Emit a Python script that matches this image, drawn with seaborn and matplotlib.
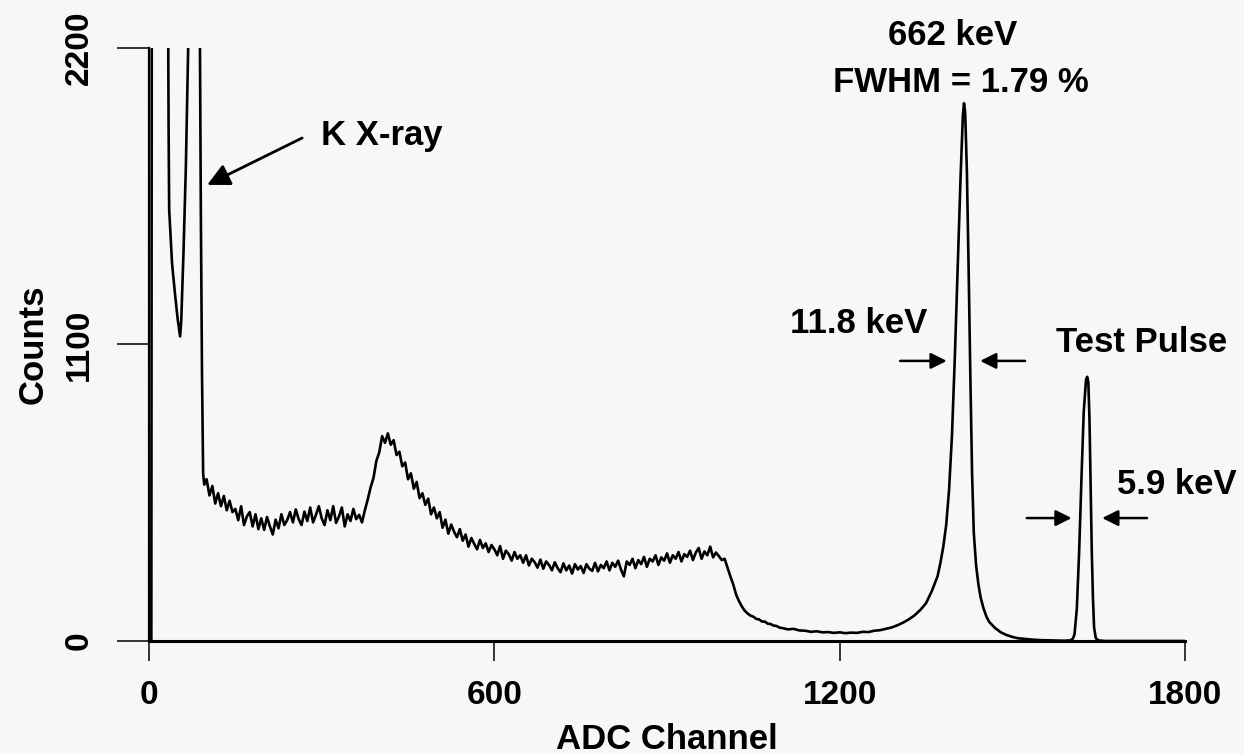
import numpy as np
import pandas as pd
import seaborn as sns
import matplotlib.pyplot as plt

sns.set_theme(style='ticks')
plt.rcParams['font.family'] = ['Liberation Sans', 'DejaVu Sans']
plt.rcParams['font.weight'] = 'bold'

# low channels: the two clipped K x-ray peaks (values above 2200 run off the top)
low_channels = [0, 4, 5, 12, 20, 30, 33, 34, 35, 40, 45, 50, 54, 56, 60, 64, 68, 70, 72, 80, 86, 88, 90, 92, 94, 96]
low_counts = [0, 0, 3000, 3000, 3000, 3000, 2400, 1900, 1600, 1400, 1290, 1190, 1130, 1190, 1450, 1760, 2200, 2600, 3000, 3000, 3000, 2400, 1600, 1000, 620, 580]

# continuum, every 5 channels from 100 to 1095
cont_counts = [
    600, 540, 575, 510, 548, 500, 538, 485, 520, 478,
    490, 448, 500, 430, 462, 478, 425, 470, 415, 455,
    412, 460, 425, 395, 450, 418, 470, 430, 448, 478,
    440, 488, 452, 430, 480, 445, 495, 440, 468, 500,
    455, 430, 485, 448, 500, 438, 462, 495, 425, 470,
    445, 490, 452, 468, 440, 485, 525, 570, 605, 668,
    700, 760, 735, 770, 728, 745, 690, 702, 648, 662,
    600, 622, 565, 590, 530, 548, 505, 528, 470, 495,
    455, 478, 420, 450, 398, 432, 405, 385, 415, 372,
    395, 350, 382, 360, 340, 375, 345, 362, 330, 356,
    340, 318, 352, 305, 335, 322, 298, 330, 305, 318,
    290, 318, 280, 305, 292, 272, 302, 268, 295, 282,
    262, 292, 270, 255, 288, 262, 280, 250, 285, 265,
    278, 252, 285, 268, 260, 290, 258, 282, 270, 295,
    262, 290, 275, 298, 265, 240, 295, 282, 305, 270,
    300, 285, 312, 275, 305, 295, 318, 282, 310, 298,
    325, 290, 318, 305, 330, 295, 322, 312, 335, 300,
    328, 345, 305, 332, 318, 350, 310, 328, 315, 300,
    305, 272, 240, 210, 172, 148, 128, 112, 102, 94,
    90, 82, 80, 72, 72, 64, 63, 57, 56, 50,
]

# 662 keV photopeak and test pulse
high_channels = [1100, 1110, 1120, 1130, 1140, 1150, 1160, 1170, 1180, 1190, 1200, 1210, 1220, 1230,
                 1240, 1250, 1260, 1270, 1280, 1290, 1300, 1310, 1320, 1330, 1340, 1350, 1360, 1370,
                 1375, 1380, 1385, 1390, 1395, 1400, 1405, 1410, 1414, 1416, 1418, 1421, 1424, 1427,
                 1430, 1433, 1437, 1441, 1445, 1450, 1455, 1460, 1470, 1480, 1490, 1500, 1510, 1520,
                 1535, 1550, 1570, 1590, 1600, 1605, 1608, 1612, 1616, 1620, 1624, 1628, 1630, 1632,
                 1634, 1636, 1638, 1640, 1642, 1645, 1650, 1660, 1700, 1800]
high_counts = [48, 43, 45, 39, 38, 34, 36, 32, 33, 30, 32, 29, 31, 30,
               34, 33, 38, 40, 45, 50, 58, 68, 80, 95, 115, 140, 185, 240,
               290, 350, 430, 560, 760, 1050, 1380, 1720, 1950, 1995, 1960, 1740, 1380, 980,
               620, 400, 280, 210, 160, 120, 90, 70, 48, 32, 22, 15, 10, 8,
               5, 3, 2, 1, 2, 8, 25, 120, 330, 600, 850, 970, 980, 960,
               820, 575, 330, 160, 50, 10, 2, 0, 0, 0]

channels = low_channels + list(range(100, 1100, 5)) + high_channels
counts = low_counts + cont_counts + high_counts
df = pd.DataFrame({'channel': channels, 'counts': counts})

fig = plt.figure(figsize=(12.44, 7.54), dpi=100, facecolor='#f7f7f7')
ax = fig.add_axes([0.1198, 0.1499, 0.8328, 0.7865])
ax.set_facecolor('#f7f7f7')

sns.lineplot(data=df, x='channel', y='counts', ax=ax, color='black', lw=1.9, estimator=None)

ax.set_xlim(0, 1800)
ax.set_ylim(0, 2200)
ax.set_xticks([0, 600, 1200, 1800])
ax.set_yticks([0, 1100, 2200])
sns.despine(ax=ax)
ax.spines['bottom'].set_linewidth(2.2)
ax.spines['left'].set_linewidth(1.6)
ax.spines['bottom'].set_color('black')
ax.spines['left'].set_color('black')
ax.tick_params(axis='x', length=14.4, width=1.1, pad=14, labelsize=24, colors='black')
ax.tick_params(axis='y', length=23, width=1.1, pad=16, labelsize=24, labelrotation=90, colors='black')
for lab in ax.get_yticklabels():
    lab.set_va('center')

ax.set_xlabel('ADC Channel', fontsize=25, fontweight='bold', labelpad=8, color='black')
ax.set_ylabel('Counts', fontsize=25, fontweight='bold', labelpad=10, color='black')

tfont = dict(fontsize=25, fontweight='bold', color='black')
ax.text(1397, 2212, '662 keV', ha='center', va='baseline', clip_on=False, **tfont)
ax.text(1411, 2037, 'FWHM = 1.79 %', ha='center', va='baseline', clip_on=False, **tfont)
ax.text(405, 1840, 'K X-ray', ha='center', va='baseline', **tfont)
ax.text(1352, 1143, '11.8 keV', ha='right', va='baseline', **tfont)
ax.text(1725, 1072, 'Test Pulse', ha='center', va='baseline', clip_on=False, **tfont)
ax.text(1682, 545, '5.9 keV', ha='left', va='baseline', clip_on=False, **tfont)

big = dict(arrowstyle='-|>', mutation_scale=34, lw=2, color='black', shrinkA=0, shrinkB=0)
small = dict(arrowstyle='-|>', mutation_scale=24, lw=1.8, color='black', shrinkA=0, shrinkB=0)
ax.annotate('', xy=(101, 1692), xytext=(266, 1866), arrowprops=big)
ax.annotate('', xy=(1386, 1039), xytext=(1305, 1039), arrowprops=small)
ax.annotate('', xy=(1444, 1039), xytext=(1522, 1039), arrowprops=small)
ax.annotate('', xy=(1603, 456), xytext=(1525, 456), arrowprops=small)
ax.annotate('', xy=(1656, 456), xytext=(1734, 456), arrowprops=small, annotation_clip=False)

plt.savefig('out.png', dpi=100, facecolor=fig.get_facecolor())
